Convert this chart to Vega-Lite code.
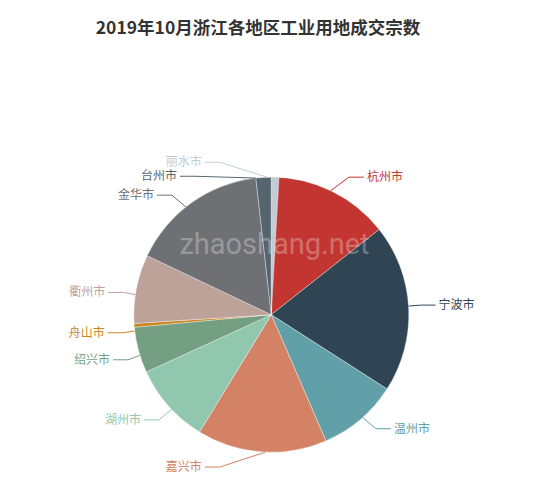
{
  "$schema": "https://vega.github.io/schema/vega-lite/v6.json",
  "width": 550,
  "height": 490,
  "autosize": {"type": "none"},
  "padding": 0,
  "background": "#ffffff",
  "config": {"view": {"stroke": null}},
  "title": {
    "text": "2019年10月浙江各地区工业用地成交宗数",
    "font": "Noto Sans CJK SC",
    "fontSize": 17.5,
    "fontWeight": "bold",
    "color": "#333333",
    "anchor": "middle",
    "baseline": "middle",
    "offset": 0,
    "dx": -17,
    "dy": 46
  },
  "datasets": {
    "cities": [
      {"city": "杭州市", "count": 32},
      {"city": "宁波市", "count": 44},
      {"city": "温州市", "count": 21},
      {"city": "嘉兴市", "count": 34},
      {"city": "湖州市", "count": 21},
      {"city": "绍兴市", "count": 12},
      {"city": "舟山市", "count": 1},
      {"city": "衢州市", "count": 18},
      {"city": "金华市", "count": 36},
      {"city": "台州市", "count": 4},
      {"city": "丽水市", "count": 2}
    ]
  },
  "layer": [
    {
      "data": {"name": "cities"},
      "transform": [
        {"window": [{"op": "sum", "field": "count", "as": "cum"}], "frame": [null, 0]},
        {"joinaggregate": [{"op": "sum", "field": "count", "as": "total"}]},
        {"calculate": "datum.cum - datum.count", "as": "cum0"},
        {"calculate": "2 * PI * (datum.cum - datum.count / 2) / datum.total", "as": "ang"},
        {"calculate": "sin(datum.ang) < 0 ? -1 : 1", "as": "dir"},
        {"calculate": "datum.dir < 0 ? 'L' : 'R'", "as": "side"},
        {"calculate": "152.5 * cos(datum.ang)", "as": "y0"},
        {"window": [{"op": "row_number", "as": "k"}], "groupby": ["side"], "sort": [{"field": "y0", "order": "descending"}]},
        {"calculate": "-datum.y0 - datum.k * 14", "as": "v"},
        {"window": [{"op": "max", "field": "v", "as": "vmax"}], "groupby": ["side"], "sort": [{"field": "y0", "order": "descending"}], "frame": [null, 0]},
        {"calculate": "-(datum.vmax + datum.k * 14)", "as": "ly"},
        {"calculate": "datum.dir * sqrt(max(0, 167.5 * 167.5 - datum.ly * datum.ly))", "as": "lx"},
        {"calculate": "137.5 * sin(datum.ang)", "as": "ex"},
        {"calculate": "137.5 * cos(datum.ang)", "as": "ey"},
        {"calculate": "datum.lx - datum.dir * 3", "as": "p2x"},
        {"calculate": "datum.p2x - datum.dir * 15", "as": "p1x"}
      ],
      "layer": [
        {
          "mark": {"type": "arc", "outerRadius": 137.5, "stroke": "#ffffff", "strokeWidth": 0.35},
          "encoding": {
            "theta": {"field": "cum0", "type": "quantitative", "stack": null},
            "theta2": {"field": "cum"},
            "x": {"datum": 0, "type": "quantitative", "scale": {"domain": [-271.3, 278.7], "nice": false, "zero": false}, "axis": null},
            "y": {"datum": 0, "type": "quantitative", "scale": {"domain": [-175.3, 314.7], "nice": false, "zero": false}, "axis": null},
            "color": {
              "field": "city", "type": "nominal", "legend": null,
              "scale": {
                "domain": ["杭州市", "宁波市", "温州市", "嘉兴市", "湖州市", "绍兴市", "舟山市", "衢州市", "金华市", "台州市", "丽水市"],
                "range": ["#c23531", "#2f4554", "#61a0a8", "#d48265", "#91c7ae", "#749f83", "#ca8622", "#bda29a", "#6e7074", "#546570", "#c4ccd3"]
              }
            }
          }
        },
        {
          "mark": {"type": "rule", "strokeWidth": 1},
          "encoding": {
            "x": {"field": "ex", "type": "quantitative", "scale": {"domain": [-271.3, 278.7], "nice": false, "zero": false}, "axis": null},
            "y": {"field": "ey", "type": "quantitative", "scale": {"domain": [-175.3, 314.7], "nice": false, "zero": false}, "axis": null},
            "x2": {"field": "p1x"},
            "y2": {"field": "ly"},
            "color": {"field": "city", "type": "nominal", "legend": null}
          }
        },
        {
          "mark": {"type": "rule", "strokeWidth": 1},
          "encoding": {
            "x": {"field": "p1x", "type": "quantitative", "scale": {"domain": [-271.3, 278.7], "nice": false, "zero": false}, "axis": null},
            "y": {"field": "ly", "type": "quantitative", "scale": {"domain": [-175.3, 314.7], "nice": false, "zero": false}, "axis": null},
            "x2": {"field": "p2x"},
            "y2": {"field": "ly"},
            "color": {"field": "city", "type": "nominal", "legend": null}
          }
        },
        {
          "transform": [{"filter": "datum.side == 'R'"}],
          "mark": {"type": "text", "align": "left", "baseline": "middle", "fontSize": 12, "font": "Noto Sans CJK SC"},
          "encoding": {
            "x": {"field": "lx", "type": "quantitative", "scale": {"domain": [-271.3, 278.7], "nice": false, "zero": false}, "axis": null},
            "y": {"field": "ly", "type": "quantitative", "scale": {"domain": [-175.3, 314.7], "nice": false, "zero": false}, "axis": null},
            "text": {"field": "city"},
            "color": {"field": "city", "type": "nominal", "legend": null}
          }
        },
        {
          "transform": [{"filter": "datum.side == 'L'"}],
          "mark": {"type": "text", "align": "right", "baseline": "middle", "fontSize": 12, "font": "Noto Sans CJK SC"},
          "encoding": {
            "x": {"field": "lx", "type": "quantitative", "scale": {"domain": [-271.3, 278.7], "nice": false, "zero": false}, "axis": null},
            "y": {"field": "ly", "type": "quantitative", "scale": {"domain": [-175.3, 314.7], "nice": false, "zero": false}, "axis": null},
            "text": {"field": "city"},
            "color": {"field": "city", "type": "nominal", "legend": null}
          }
        }
      ]
    },
    {
      "data": {"values": [{"mark": "zhaoshang.net"}]},
      "mark": {"type": "text", "align": "center", "baseline": "alphabetic", "fontSize": 29, "font": "Roboto", "fontWeight": "normal", "fill": "#ffffff", "opacity": 0.28},
      "encoding": {
        "x": {"datum": 3.2, "type": "quantitative", "scale": {"domain": [-271.3, 278.7], "nice": false, "zero": false}, "axis": null},
        "y": {"datum": 61, "type": "quantitative", "scale": {"domain": [-175.3, 314.7], "nice": false, "zero": false}, "axis": null},
        "text": {"field": "mark"}
      }
    }
  ]
}
